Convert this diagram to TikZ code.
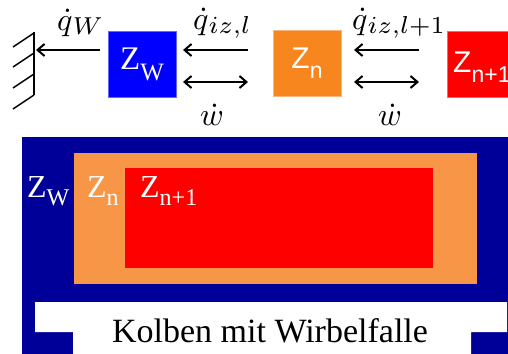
\documentclass[tikz,border=0pt]{standalone}
\usepackage[no-math]{fontspec}
\newfontfamily\timesf{Liberation Serif}
\newfontfamily\arialf{Liberation Sans}
\usetikzlibrary{arrows.meta}
\definecolor{zwblue}{RGB}{0,0,255}
\definecolor{znorange}{RGB}{247,134,30}
\definecolor{lightorange}{RGB}{247,150,70}
\definecolor{zred}{RGB}{255,0,0}
\definecolor{navy}{RGB}{0,0,153}
\newcommand{\mainmath}[1]{\scalebox{3.2}{$#1$}}
\newcommand{\submath}[1]{\raisebox{-4pt}{\scalebox{3.5}{$\scriptstyle #1$}}}
\begin{document}
\begin{tikzpicture}[x=1pt,y=-1pt,
  barb/.tip={Straight Barb[length=7pt,width=12pt,line width=2pt]},
  arr/.style={line width=2.2pt,-barb},
  darr/.style={line width=2.2pt,barb-barb},
  zbox/.style={draw=#1!60!white,line width=0.6pt,fill=#1,minimum width=68pt,minimum height=66pt,inner sep=0pt,text=white},
  mlabel/.style={inner sep=0pt,font=\fontsize{10}{12}\selectfont},
  serlab/.style={anchor=base west,inner sep=0pt,text=white,font=\timesf\fontsize{32}{32}\selectfont},
  sanlab/.style={inner sep=0pt,text=white,font=\arialf\fontsize{30}{30}\selectfont},
  hatch/.style={line width=1.5pt}]
\useasboundingbox (0,0) rectangle (508,353);
% ---------- top row ----------
\draw[line width=2pt] (34,32) -- (34,95);
\foreach \yy in {33,53,74,95} {\draw[hatch] (34,\yy) -- (13,\yy+14);}
\node[zbox=zwblue] (ZW) at (142,64) {\timesf\fontsize{33}{33}\selectfont Z\raisebox{-11pt}{\fontsize{25}{25}\selectfont W}};
\node[zbox=znorange] (Zn) at (307,63) {\arialf\fontsize{30}{30}\selectfont Z\raisebox{-10pt}{\fontsize{23}{23}\selectfont n}};
\node[zbox=zred,anchor=north west] (Zn1) at (447,31) {};
\node[sanlab,anchor=base west] (lZn1) at (453,72) {Z\raisebox{-10pt}{\fontsize{23}{23}\selectfont n+1}};
% arrow end points
\coordinate (wallpt) at (36,50);
\coordinate (qws) at (100,50);
\coordinate (a1s) at (248,50);
\coordinate (a1e) at (183,50);
\coordinate (b1s) at (183,82);
\coordinate (b1e) at (248,82);
\coordinate (a2s) at (419,50);
\coordinate (a2e) at (354,50);
\coordinate (b2s) at (354,82);
\coordinate (b2e) at (419,82);
\draw[arr] (qws) -- (wallpt);
\draw[arr] (a1s) -- (a1e);
\draw[darr] (b1s) -- (b1e);
\draw[arr] (a2s) -- (a2e);
\draw[darr] (b2s) -- (b2e);
\node[mlabel,anchor=base west] (lqw) at (57,31) {\mainmath{\dot q}\submath{W}};
\node[mlabel,anchor=base west] (lq1) at (193,30) {\mainmath{\dot q}\submath{iz,l}};
\node[mlabel,anchor=base west] (lq2) at (352,30) {\mainmath{\dot q}\submath{iz,l+1}};
\node[mlabel,anchor=base] (lw1) at (212,125) {\mainmath{\dot w}};
\node[mlabel,anchor=base] (lw2) at (390,125) {\mainmath{\dot w}};
% ---------- lower part ----------
\fill[navy] (22,137) rectangle (510,355);
\fill[white] (35,302) -- (507,302) -- (507,332) -- (471,332) -- (471,355) -- (73,355) -- (73,332) -- (35,332) -- cycle;
\fill[lightorange] (74,153) rectangle (477,284);
\fill[zred] (125,168) rectangle (433,268);
\node[serlab] (lzw) at (27,197) {Z\raisebox{-8pt}{\fontsize{24}{24}\selectfont W}};
\node[serlab] (lzn) at (87,197) {Z\raisebox{-8pt}{\fontsize{24}{24}\selectfont n}};
\node[serlab] (lzn1) at (140,197) {Z\raisebox{-8pt}{\fontsize{24}{24}\selectfont n+1}};
\node[anchor=base,inner sep=0pt,font=\timesf\fontsize{34}{34}\selectfont] (kolben) at (270,342) {Kolben mit Wirbelfalle};
\end{tikzpicture}
\end{document}
